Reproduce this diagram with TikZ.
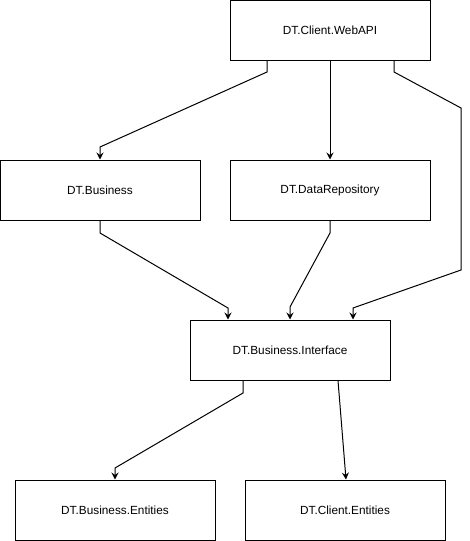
\documentclass[tikz,border=0pt]{standalone}
\usepackage{fontspec}
\setmainfont{Liberation Sans}
\usetikzlibrary{arrows.meta}

\begin{document}
\begin{tikzpicture}[
    % one unit is one pixel of the drawing, y runs downwards
    x=1pt, y=-1pt,
    % type of arrow head
    >={Stealth[length=7pt, width=7pt, inset=2.5pt]},
    line width=1pt,
    proj/.style = {draw, rectangle, minimum width=200pt, minimum height=60pt,
                   inner sep=0pt, font=\fontsize{11.8}{14}\selectfont},
    line/.style = {->, draw=black, line width=1pt}
    ]

    \useasboundingbox (0,0) rectangle (469,541);

    % nodes
    \node (WebAPI)    [proj] at (330, 30.5) {DT.Client.WebAPI};
    \node (Business)  [proj] at (100, 190)  {DT.Business};
    \node (DataRepo)  [proj] at (330, 190)  {DT.DataRepository};
    \node (Interface) [proj] at (290, 350)  {DT.Business.Interface};
    \node (BEntities) [proj] at (115, 510)  {DT.Business.Entities};
    \node (CEntities) [proj] at (345, 510)  {DT.Client.Entities};

    % bend points
    \coordinate (W1a) at (267, 72);
    \coordinate (W1b) at (100, 147);
    \coordinate (W3a) at (394, 72);
    \coordinate (W3b) at (461, 108);
    \coordinate (W3c) at (461, 270);
    \coordinate (W3d) at (353, 308);
    \coordinate (B1a) at (100, 233);
    \coordinate (B1b) at (228, 308);
    \coordinate (D1a) at (330, 233);
    \coordinate (D1b) at (290, 307);
    \coordinate (I1a) at (243, 393);
    \coordinate (I1b) at (115, 468);
    \coordinate (I2a) at (338, 380);
    \coordinate (I2b) at (346, 480);

    % edges
    \path[line] (WebAPI.south -| W1a) -- (W1a) -- (W1b) -- (Business.north -| W1b);
    \path[line] (WebAPI) -- (DataRepo);
    \path[line] (WebAPI.south -| W3a) -- (W3a) -- (W3b) -- (W3c) -- (W3d)
                -- (Interface.north -| W3d);

    \path[line] (Business.south -| B1a) -- (B1a) -- (B1b) -- (Interface.north -| B1b);
    \path[line] (DataRepo.south -| D1a) -- (D1a) -- (D1b) -- (Interface.north -| D1b);

    \path[line] (Interface.south -| I1a) -- (I1a) -- (I1b) -- (BEntities.north -| I1b);
    \path[line] (Interface.south -| I2a) -- (CEntities.north -| I2b);
\end{tikzpicture}
\end{document}
